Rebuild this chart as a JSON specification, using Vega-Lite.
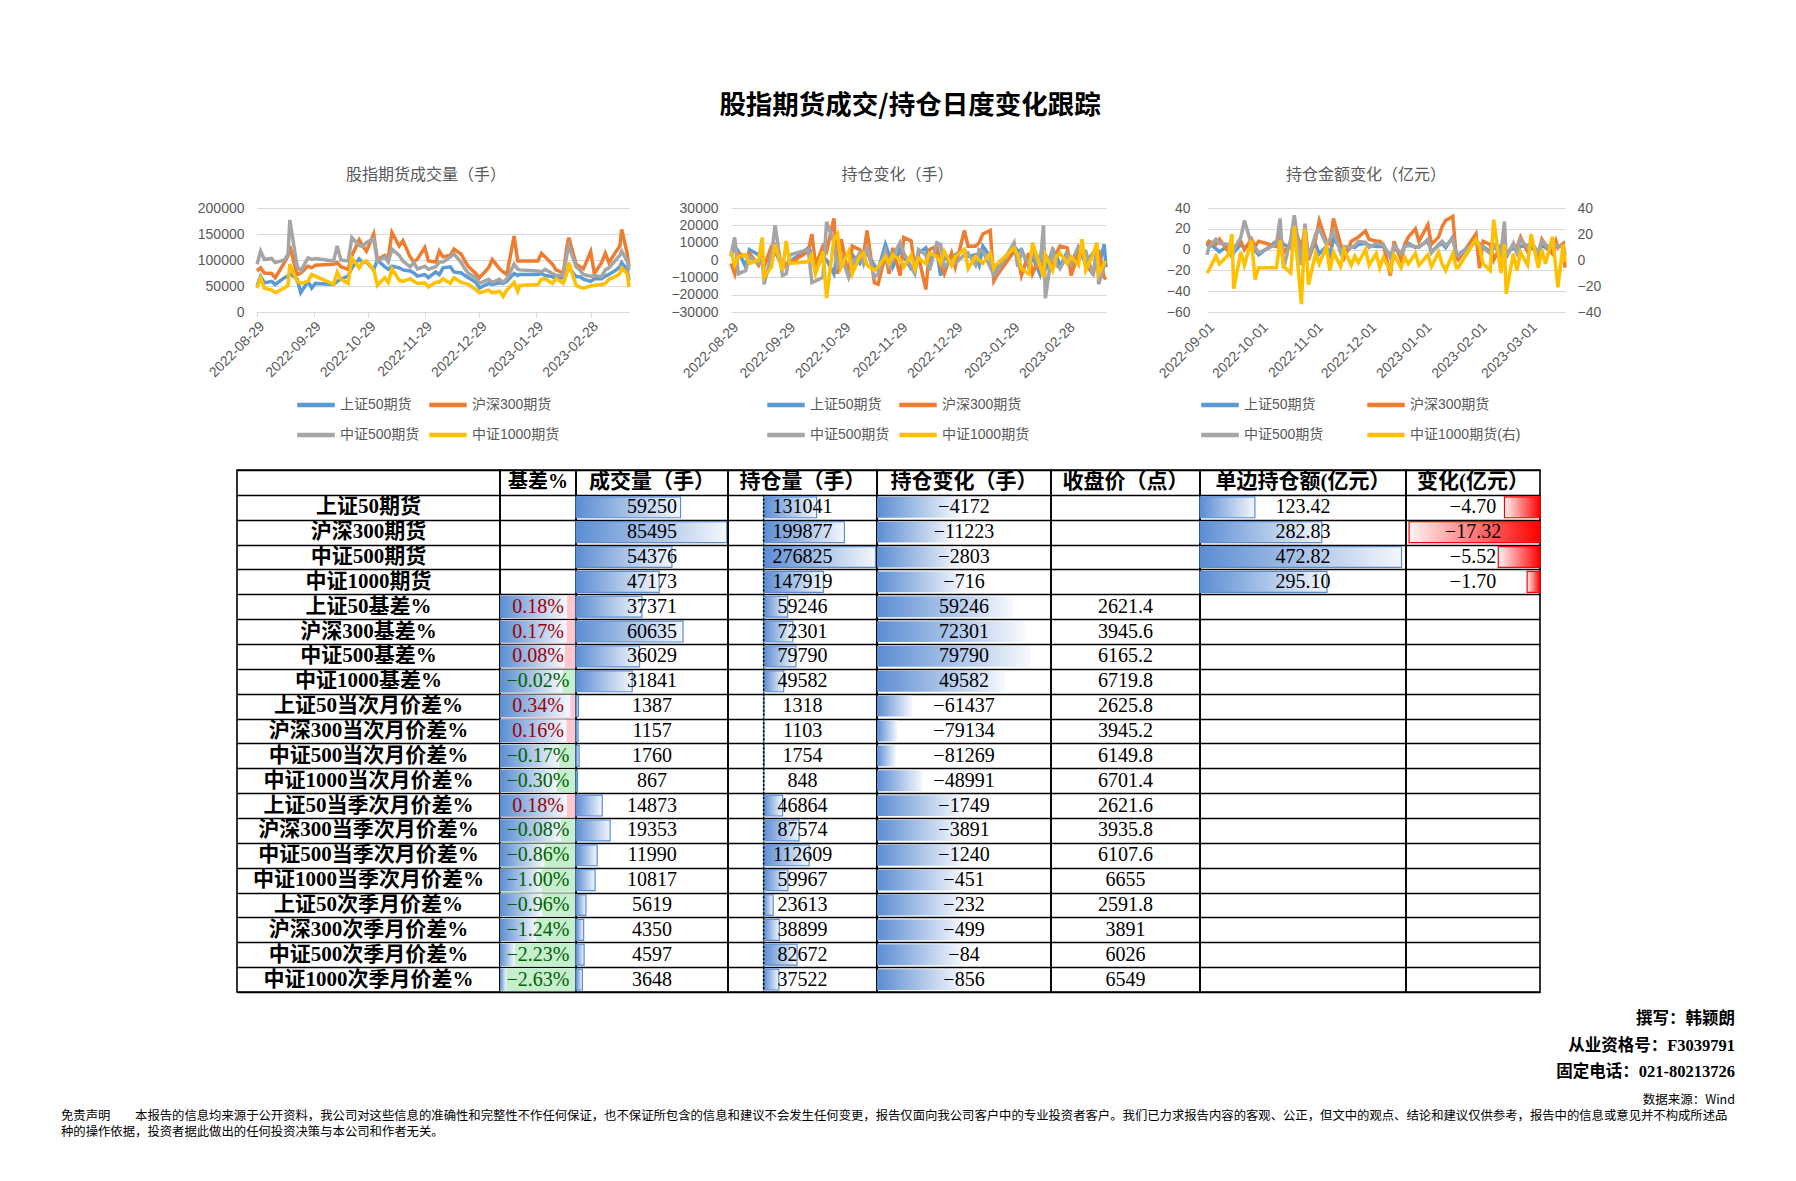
{
"$schema":"https://vega.github.io/schema/vega-lite/v6.json",
"background":"white",
"padding":{"left":61,"top":92,"right":61,"bottom":30},
"title":{"text":"股指期货成交/持仓日度变化跟踪","fontSize":26.5,"font":"Noto Sans CJK SC","fontWeight":"bold","color":"#000000","anchor":"middle","frame":"bounds","offset":48,"dx":12},
"config":{"view":{"stroke":null}},
"datasets":{
"vol":[
{"d":"2022-08-29","上证50期货":50000,"沪深300期货":79000,"中证500期货":92000,"中证1000期货":46000},
{"d":"2022-08-31","上证50期货":69000,"沪深300期货":85000,"中证500期货":117000,"中证1000期货":66000},
{"d":"2022-09-02","上证50期货":56000,"沪深300期货":75000,"中证500期货":101000,"中证1000期货":46000},
{"d":"2022-09-06","上证50期货":59000,"沪深300期货":74000,"中证500期货":103000,"中证1000期货":42000},
{"d":"2022-09-08","上证50期货":53000,"沪深300期货":66000,"中证500期货":95000,"中证1000期货":37000},
{"d":"2022-09-13","上证50期货":66000,"沪深300期货":95000,"中证500期货":100000,"中证1000期货":46000},
{"d":"2022-09-15","上证50期货":69000,"沪深300期货":108000,"中证500期货":111000,"中证1000期货":51000},
{"d":"2022-09-16","上证50期货":74000,"沪深300期货":127000,"中证500期货":177000,"中证1000期货":92000},
{"d":"2022-09-20","上证50期货":63000,"沪深300期货":72000,"中证500期货":88000,"中证1000期货":59000},
{"d":"2022-09-22","上证50期货":37000,"沪深300期货":75000,"中证500期货":79000,"中证1000期货":55000},
{"d":"2022-09-26","上证50期货":59000,"沪深300期货":88000,"中证500期货":104000,"中证1000期货":59000},
{"d":"2022-09-28","上证50期货":46000,"沪深300期货":85000,"中证500期货":101000,"中证1000期货":72000},
{"d":"2022-09-30","上证50期货":55000,"沪深300期货":90000,"中证500期货":103000,"中证1000期货":69000},
{"d":"2022-10-10","上证50期货":53000,"沪深300期货":92000,"中证500期货":98000,"中证1000期货":53000},
{"d":"2022-10-12","上证50期货":59000,"沪深300期货":95000,"中证500期货":127000,"中证1000期货":77000},
{"d":"2022-10-14","上证50期货":63000,"沪深300期货":87000,"中证500期货":100000,"中证1000期货":63000},
{"d":"2022-10-18","上证50期货":69000,"沪深300期货":82000,"中证500期货":98000,"中证1000期货":55000},
{"d":"2022-10-20","上证50期货":85000,"沪深300期货":108000,"中证500期货":143000,"中证1000期货":104000},
{"d":"2022-10-24","上证50期货":102000,"沪深300期货":139000,"中证500期货":128000,"中证1000期货":85000},
{"d":"2022-10-26","上证50期货":95000,"沪深300期货":127000,"中证500期货":126000,"中证1000期货":96000},
{"d":"2022-10-28","上证50期货":96000,"沪深300期货":117000,"中证500期货":134000,"中证1000期货":98000},
{"d":"2022-11-01","上证50期货":81000,"沪深300期货":150000,"中证500期货":141000,"中证1000期货":81000},
{"d":"2022-11-03","上证50期货":100000,"沪深300期货":101000,"中证500期货":98000,"中证1000期货":51000},
{"d":"2022-11-07","上证50期货":87000,"沪深300期货":109000,"中证500期货":106000,"中证1000期货":66000},
{"d":"2022-11-09","上证50期货":82000,"沪深300期货":104000,"中证500期货":96000,"中证1000期货":57000},
{"d":"2022-11-11","上证50期货":88000,"沪深300期货":153000,"中证500期货":121000,"中证1000期货":83000},
{"d":"2022-11-15","上证50期货":85000,"沪深300期货":127000,"中证500期货":109000,"中证1000期货":61000},
{"d":"2022-11-17","上证50期货":81000,"沪深300期货":137000,"中证500期货":98000,"中证1000期货":59000},
{"d":"2022-11-21","上证50期货":79000,"沪深300期货":106000,"中证500期货":87000,"中证1000期货":64000},
{"d":"2022-11-23","上证50期货":75000,"沪深300期货":96000,"中证500期货":95000,"中证1000期货":59000},
{"d":"2022-11-25","上证50期货":69000,"沪深300期货":102000,"中证500期货":83000,"中证1000期货":55000},
{"d":"2022-11-29","上证50期货":72000,"沪深300期货":124000,"中证500期货":88000,"中证1000期货":56000},
{"d":"2022-12-01","上证50期货":66000,"沪深300期货":98000,"中证500期货":82000,"中证1000期货":48000},
{"d":"2022-12-05","上证50期货":77000,"沪深300期货":96000,"中证500期货":87000,"中证1000期货":57000},
{"d":"2022-12-07","上证50期货":72000,"沪深300期货":117000,"中证500期货":96000,"中证1000期货":57000},
{"d":"2022-12-09","上证50期货":85000,"沪深300期货":106000,"中证500期货":96000,"中证1000期货":64000},
{"d":"2022-12-13","上证50期货":87000,"沪深300期货":109000,"中证500期货":106000,"中证1000期货":55000},
{"d":"2022-12-15","上证50期货":77000,"沪深300期货":121000,"中证500期货":112000,"中证1000期货":66000},
{"d":"2022-12-19","上证50期货":75000,"沪深300期货":111000,"中证500期货":95000,"中证1000期货":57000},
{"d":"2022-12-21","上证50期货":70000,"沪深300期货":98000,"中证500期货":83000,"中证1000期货":55000},
{"d":"2022-12-23","上证50期货":66000,"沪深300期货":87000,"中证500期货":74000,"中证1000期货":53000},
{"d":"2022-12-27","上证50期货":57000,"沪深300期货":74000,"中证500期货":66000,"中证1000期货":43000},
{"d":"2022-12-29","上证50期货":46000,"沪深300期货":66000,"中证500期货":55000,"中证1000期货":37000},
{"d":"2023-01-03","上证50期货":55000,"沪深300期货":85000,"中证500期货":63000,"中证1000期货":42000},
{"d":"2023-01-05","上证50期货":53000,"沪深300期货":101000,"中证500期货":57000,"中证1000期货":37000},
{"d":"2023-01-09","上证50期货":56000,"沪深300期货":83000,"中证500期货":63000,"中证1000期货":40000},
{"d":"2023-01-11","上证50期货":55000,"沪深300期货":77000,"中证500期货":57000,"中证1000期货":30000},
{"d":"2023-01-13","上证50期货":59000,"沪深300期货":72000,"中证500期货":64000,"中证1000期货":42000},
{"d":"2023-01-17","上证50期货":74000,"沪深300期货":146000,"中证500期货":92000,"中证1000期货":57000},
{"d":"2023-01-19","上证50期货":70000,"沪深300期货":98000,"中证500期货":82000,"中证1000期货":40000},
{"d":"2023-01-20","上证50期货":72000,"沪深300期货":98000,"中证500期货":81000,"中证1000期货":51000},
{"d":"2023-01-30","上证50期货":72000,"沪深300期货":98000,"中证500期货":79000,"中证1000期货":53000},
{"d":"2023-02-01","上证50期货":74000,"沪深300期货":113000,"中证500期货":77000,"中证1000期货":63000},
{"d":"2023-02-03","上证50期货":70000,"沪深300期货":106000,"中证500期货":82000,"中证1000期货":64000},
{"d":"2023-02-07","上证50期货":68000,"沪深300期货":92000,"中证500期货":74000,"中证1000期货":55000},
{"d":"2023-02-09","上证50期货":64000,"沪深300期货":81000,"中证500期货":70000,"中证1000期货":64000},
{"d":"2023-02-13","上证50期货":66000,"沪深300期货":75000,"中证500期货":70000,"中证1000期货":55000},
{"d":"2023-02-15","上证50期货":81000,"沪深300期货":127000,"中证500期货":111000,"中证1000期货":75000},
{"d":"2023-02-16","上证50期货":85000,"沪深300期货":143000,"中证500期货":127000,"中证1000期货":95000},
{"d":"2023-02-20","上证50期货":68000,"沪深300期货":92000,"中证500期货":87000,"中证1000期货":51000},
{"d":"2023-02-22","上证50期货":68000,"沪深300期货":87000,"中证500期货":81000,"中证1000期货":48000},
{"d":"2023-02-24","上证50期货":63000,"沪深300期货":83000,"中证500期货":72000,"中证1000期货":46000},
{"d":"2023-02-28","上证50期货":59000,"沪深300期货":116000,"中证500期货":69000,"中证1000期货":50000},
{"d":"2023-03-02","上证50期货":64000,"沪深300期货":74000,"中证500期货":70000,"中证1000期货":51000},
{"d":"2023-03-06","上证50期货":64000,"沪深300期货":95000,"中证500期货":68000,"中证1000期货":53000},
{"d":"2023-03-08","上证50期货":69000,"沪深300期货":113000,"中证500期货":81000,"中证1000期货":55000},
{"d":"2023-03-10","上证50期货":72000,"沪深300期货":95000,"中证500期货":85000,"中证1000期货":63000},
{"d":"2023-03-14","上证50期货":81000,"沪深300期货":117000,"中证500期货":101000,"中证1000期货":69000},
{"d":"2023-03-16","上证50期货":87000,"沪深300期货":127000,"中证500期货":109000,"中证1000期货":74000},
{"d":"2023-03-17","上证50期货":95000,"沪深300期货":159000,"中证500期货":117000,"中证1000期货":85000},
{"d":"2023-03-20","上证50期货":81000,"沪深300期货":113000,"中证500期货":98000,"中证1000期货":74000},
{"d":"2023-03-21","上证50期货":62000,"沪深300期货":87000,"中证500期货":80000,"中证1000期货":48000}
],
"oi":[
{"d":"2022-08-29","上证50期货":2000,"沪深300期货":-2000,"中证500期货":3000,"中证1000期货":5000},
{"d":"2022-08-31","上证50期货":8000,"沪深300期货":-8000,"中证500期货":13000,"中证1000期货":-3000},
{"d":"2022-09-02","上证50期货":5000,"沪深300期货":4000,"中证500期货":-8000,"中证1000期货":2000},
{"d":"2022-09-06","上证50期货":-4000,"沪深300期货":2000,"中证500期货":-6000,"中证1000期货":3000},
{"d":"2022-09-08","上证50期货":6000,"沪深300期货":4000,"中证500期货":2000,"中证1000期货":-2000},
{"d":"2022-09-13","上证50期货":3000,"沪深300期货":-3000,"中证500期货":-2000,"中证1000期货":0},
{"d":"2022-09-15","上证50期货":-1000,"沪深300期货":2000,"中证500期货":1000,"中证1000期货":13000},
{"d":"2022-09-16","上证50期货":-2000,"沪深300期货":-4000,"中证500期货":-14000,"中证1000期货":-10000},
{"d":"2022-09-20","上证50期货":2000,"沪深300期货":8000,"中证500期货":3000,"中证1000期货":-4000},
{"d":"2022-09-22","上证50期货":5000,"沪深300期货":9000,"中证500期货":20000,"中证1000期货":9000},
{"d":"2022-09-26","上证50期货":-4000,"沪深300期货":-5000,"中证500期货":-9000,"中证1000期货":-6000},
{"d":"2022-09-28","上证50期货":-3000,"沪深300期货":-2000,"中证500期货":-8000,"中证1000期货":11000},
{"d":"2022-09-30","上证50期货":-1000,"沪深300期货":-2000,"中证500期货":3000,"中证1000期货":-2000},
{"d":"2022-10-10","上证50期货":7000,"沪深300期货":5000,"中证500期货":6000,"中证1000期货":-1000},
{"d":"2022-10-12","上证50期货":4000,"沪深300期货":15000,"中证500期货":-13000,"中证1000期货":3000},
{"d":"2022-10-14","上证50期货":-6000,"沪深300期货":-3000,"中证500期货":-12000,"中证1000期货":-8000},
{"d":"2022-10-18","上证50期货":2000,"沪深300期货":8000,"中证500期货":-10000,"中证1000期货":5000},
{"d":"2022-10-20","上证50期货":0,"沪深300期货":5000,"中证500期货":22000,"中证1000期货":-22000},
{"d":"2022-10-24","上证50期货":-8000,"沪深300期货":24000,"中证500期货":10000,"中证1000期货":12000},
{"d":"2022-10-26","上证50期货":5000,"沪深300期货":-8000,"中证500期货":-5000,"中证1000期货":15000},
{"d":"2022-10-28","上证50期货":-2000,"沪深300期货":12000,"中证500期货":2000,"中证1000期货":-4000},
{"d":"2022-11-01","上证50期货":-5000,"沪深300期货":-10000,"中证500期货":-10000,"中证1000期货":5000},
{"d":"2022-11-03","上证50期货":3000,"沪深300期货":8000,"中证500期货":-3000,"中证1000期货":-8000},
{"d":"2022-11-07","上证50期货":-2000,"沪深300期货":6000,"中证500期货":4000,"中证1000期货":2000},
{"d":"2022-11-09","上证50期货":2000,"沪深300期货":2000,"中证500期货":-2000,"中证1000期货":4000},
{"d":"2022-11-11","上证50期货":4000,"沪深300期货":17000,"中证500期货":8000,"中证1000期货":-3000},
{"d":"2022-11-15","上证50期货":-3000,"沪深300期货":-13000,"中证500期货":-10000,"中证1000期货":-6000},
{"d":"2022-11-17","上证50期货":-6000,"沪深300期货":-14000,"中证500期货":-8000,"中证1000期货":-4000},
{"d":"2022-11-21","上证50期货":9000,"沪深300期货":3000,"中证500期货":5000,"中证1000期货":2000},
{"d":"2022-11-23","上证50期货":3000,"沪深300期货":-8000,"中证500期货":-5000,"中证1000期货":-2000},
{"d":"2022-11-25","上证50期货":-4000,"沪深300期货":7000,"中证500期货":2000,"中证1000期货":3000},
{"d":"2022-11-29","上证50期货":6000,"沪深300期货":-9000,"中证500期货":10000,"中证1000期货":0},
{"d":"2022-12-01","上证50期货":2000,"沪深300期货":13000,"中证500期货":4000,"中证1000期货":-4000},
{"d":"2022-12-05","上证50期货":-5000,"沪深300期货":11000,"中证500期货":-4000,"中证1000期货":3000},
{"d":"2022-12-07","上证50期货":-3000,"沪深300期货":-5000,"中证500期货":-8000,"中证1000期货":-5000},
{"d":"2022-12-09","上证50期货":4000,"沪深300期货":2000,"中证500期货":6000,"中证1000期货":1000},
{"d":"2022-12-13","上证50期货":7000,"沪深300期货":-17000,"中证500期货":3000,"中证1000期货":-2000},
{"d":"2022-12-15","上证50期货":0,"沪深300期货":6000,"中证500期货":-6000,"中证1000期货":4000},
{"d":"2022-12-19","上证50期货":5000,"沪深300期货":8000,"中证500期货":10000,"中证1000期货":2000},
{"d":"2022-12-21","上证50期货":-9000,"沪深300期货":-3000,"中证500期货":9000,"中证1000期货":-2000},
{"d":"2022-12-23","上证50期货":2000,"沪深300期货":-8000,"中证500期货":-4000,"中证1000期货":5000},
{"d":"2022-12-27","上证50期货":-2000,"沪深300期货":4000,"中证500期货":0,"中证1000期货":-3000},
{"d":"2022-12-29","上证50期货":3000,"沪深300期货":-4000,"中证500期货":-2000,"中证1000期货":2000},
{"d":"2023-01-03","上证50期货":6000,"沪深300期货":17000,"中证500期货":3000,"中证1000期货":6000},
{"d":"2023-01-05","上证50期货":2000,"沪深300期货":8000,"中证500期货":4000,"中证1000期货":-5000},
{"d":"2023-01-09","上证50期货":3000,"沪深300期货":8000,"中证500期货":-3000,"中证1000期货":2000},
{"d":"2023-01-11","上证50期货":-3000,"沪深300期货":10000,"中证500期货":6000,"中证1000期货":0},
{"d":"2023-01-13","上证50期货":8000,"沪深300期货":15000,"中证500期货":5000,"中证1000期货":-2000},
{"d":"2023-01-17","上证50期货":2000,"沪深300期货":17000,"中证500期货":-4000,"中证1000期货":4000},
{"d":"2023-01-19","上证50期货":-6000,"沪深300期货":-12000,"中证500期货":-9000,"中证1000期货":-5000},
{"d":"2023-01-20","上证50期货":-5000,"沪深300期货":-10000,"中证500期货":-8000,"中证1000期货":-3000},
{"d":"2023-01-30","上证50期货":8000,"沪深300期货":5000,"中证500期货":10000,"中证1000期货":7000},
{"d":"2023-02-01","上证50期货":5000,"沪深300期货":2000,"中证500期货":-4000,"中证1000期货":3000},
{"d":"2023-02-03","上证50期货":6000,"沪深300期货":-9000,"中证500期货":5000,"中证1000期货":-5000},
{"d":"2023-02-07","上证50期货":-4000,"沪深300期货":4000,"中证500期货":-2000,"中证1000期货":-8000},
{"d":"2023-02-09","上证50期货":2000,"沪深300期货":-8000,"中证500期货":5000,"中证1000期货":10000},
{"d":"2023-02-13","上证50期货":-8000,"沪深300期货":2000,"中证500期货":-5000,"中证1000期货":-3000},
{"d":"2023-02-15","上证50期货":7000,"沪深300期货":-6000,"中证500期货":20000,"中证1000期货":-10000},
{"d":"2023-02-16","上证50期货":-6000,"沪深300期货":3000,"中证500期货":-22000,"中证1000期货":3000},
{"d":"2023-02-20","上证50期货":6000,"沪深300期货":-4000,"中证500期货":7000,"中证1000期货":-6000},
{"d":"2023-02-22","上证50期货":3000,"沪深300期货":4000,"中证500期货":-3000,"中证1000期货":2000},
{"d":"2023-02-24","上证50期货":-4000,"沪深300期货":8000,"中证500期货":-5000,"中证1000期货":4000},
{"d":"2023-02-28","上证50期货":5000,"沪深300期货":7000,"中证500期货":3000,"中证1000期货":-2000},
{"d":"2023-03-02","上证50期货":-3000,"沪深300期货":-9000,"中证500期货":-2000,"中证1000期货":2000},
{"d":"2023-03-06","上证50期货":5000,"沪深300期货":4000,"中证500期货":8000,"中证1000期货":-3000},
{"d":"2023-03-08","上证50期货":2000,"沪深300期货":8000,"中证500期货":6000,"中证1000期货":12000},
{"d":"2023-03-10","上证50期货":-2000,"沪深300期货":-3000,"中证500期货":5000,"中证1000期货":-6000},
{"d":"2023-03-14","上证50期货":4000,"沪深300期货":-8000,"中证500期货":-9000,"中证1000期货":3000},
{"d":"2023-03-16","上证50期货":3000,"沪深300期货":2000,"中证500期货":8000,"中证1000期货":10000},
{"d":"2023-03-17","上证50期货":-4000,"沪深300期货":6000,"中证500期货":-14000,"中证1000期货":-8000},
{"d":"2023-03-20","上证50期货":9000,"沪深300期货":-10000,"中证500期货":-3000,"中证1000期货":-2000},
{"d":"2023-03-21","上证50期货":-4172,"沪深300期货":-11223,"中证500期货":-2803,"中证1000期货":-716}
],
"amt":[
{"d":"2022-09-01","上证50期货":3,"沪深300期货":5,"中证500期货":-5,"中证1000期货(右)":-10},
{"d":"2022-09-02","上证50期货":6,"沪深300期货":8,"中证500期货":2,"中证1000期货(右)":-8},
{"d":"2022-09-06","上证50期货":1,"沪深300期货":5,"中证500期货":10,"中证1000期货(右)":3},
{"d":"2022-09-08","上证50期货":-2,"沪深300期货":10,"中证500期货":6,"中证1000期货(右)":-3},
{"d":"2022-09-13","上证50期货":4,"沪深300期货":-2,"中证500期货":5,"中证1000期货(右)":4},
{"d":"2022-09-15","上证50期货":-6,"沪深300期货":-5,"中证500期货":-8,"中证1000期货(右)":20},
{"d":"2022-09-16","上证50期货":-3,"沪深300期货":2,"中证500期货":0,"中证1000期货(右)":-22},
{"d":"2022-09-20","上证50期货":5,"沪深300期货":8,"中证500期货":12,"中证1000期货(右)":6},
{"d":"2022-09-22","上证50期货":2,"沪深300期货":0,"中证500期货":28,"中证1000期货(右)":-4},
{"d":"2022-09-26","上证50期货":6,"沪深300期货":10,"中证500期货":5,"中证1000期货(右)":15},
{"d":"2022-09-28","上证50期货":-1,"沪深300期货":3,"中证500期货":2,"中证1000期货(右)":-15},
{"d":"2022-09-30","上证50期货":-5,"沪深300期货":8,"中证500期货":-3,"中证1000期货(右)":-6},
{"d":"2022-10-10","上证50期货":8,"沪深300期货":3,"中证500期货":5,"中证1000期货(右)":-6},
{"d":"2022-10-12","上证50期货":10,"沪深300期货":15,"中证500期货":30,"中证1000期货(右)":15},
{"d":"2022-10-14","上证50期货":5,"沪深300期货":-3,"中证500期货":-18,"中证1000期货(右)":-5},
{"d":"2022-10-18","上证50期货":2,"沪深300期货":6,"中证500期货":10,"中证1000期货(右)":-10},
{"d":"2022-10-20","上证50期货":12,"沪深300期货":22,"中证500期货":33,"中证1000期货(右)":26},
{"d":"2022-10-24","上证50期货":4,"沪深300期货":2,"中证500期货":-15,"中证1000期货(右)":-34},
{"d":"2022-10-26","上证50期货":8,"沪深300期货":18,"中证500期货":25,"中证1000期货(右)":24},
{"d":"2022-10-28","上证50期货":-3,"沪深300期货":-10,"中证500期货":-8,"中证1000期货(右)":-19},
{"d":"2022-11-01","上证50期货":5,"沪深300期货":10,"中证500期货":15,"中证1000期货(右)":5},
{"d":"2022-11-03","上证50期货":-4,"沪深300期货":28,"中证500期货":20,"中证1000期货(右)":-3},
{"d":"2022-11-07","上证50期货":3,"沪深300期货":8,"中证500期货":5,"中证1000期货(右)":10},
{"d":"2022-11-09","上证50期货":-5,"沪深300期货":5,"中证500期货":10,"中证1000期货(右)":-8},
{"d":"2022-11-11","上证50期货":10,"沪深300期货":30,"中证500期货":18,"中证1000期货(右)":6},
{"d":"2022-11-15","上证50期货":2,"沪深300期货":5,"中证500期货":-3,"中证1000期货(右)":-5},
{"d":"2022-11-17","上证50期货":-4,"沪深300期货":-8,"中证500期货":3,"中证1000期货(右)":8},
{"d":"2022-11-21","上证50期货":3,"沪深300期货":8,"中证500期货":2,"中证1000期货(右)":-4},
{"d":"2022-11-23","上证50期货":2,"沪深300期货":10,"中证500期货":4,"中证1000期货(右)":3},
{"d":"2022-11-25","上证50期货":5,"沪深300期货":12,"中证500期货":8,"中证1000期货(右)":-2},
{"d":"2022-11-29","上证50期货":6,"沪深300期货":18,"中证500期货":7,"中证1000期货(右)":8},
{"d":"2022-12-01","上证50期货":4,"沪深300期货":10,"中证500期货":2,"中证1000期货(右)":-4},
{"d":"2022-12-05","上证50期货":3,"沪深300期货":8,"中证500期货":6,"中证1000期货(右)":5},
{"d":"2022-12-07","上证50期货":3,"沪深300期货":8,"中证500期货":5,"中证1000期货(右)":-6},
{"d":"2022-12-09","上证50期货":3,"沪深300期货":5,"中证500期货":5,"中证1000期货(右)":2},
{"d":"2022-12-13","上证50期货":-6,"沪深300期货":-25,"中证500期货":-8,"中证1000期货(右)":-8},
{"d":"2022-12-15","上证50期货":2,"沪深300期货":8,"中证500期货":4,"中证1000期货(右)":4},
{"d":"2022-12-19","上证50期货":-5,"沪深300期货":-10,"中证500期货":-4,"中证1000期货(右)":-6},
{"d":"2022-12-21","上证50期货":4,"沪深300期货":5,"中证500期货":3,"中证1000期货(右)":2},
{"d":"2022-12-23","上证50期货":6,"沪深300期货":12,"中证500期货":4,"中证1000期货(右)":-3},
{"d":"2022-12-27","上证50期货":2,"沪深300期货":20,"中证500期货":3,"中证1000期货(右)":5},
{"d":"2022-12-29","上证50期货":3,"沪深300期货":8,"中证500期货":2,"中证1000期货(右)":-4},
{"d":"2023-01-03","上证50期货":8,"沪深300期货":24,"中证500期货":10,"中证1000期货(右)":4},
{"d":"2023-01-05","上证50期货":-2,"沪深300期货":5,"中证500期货":-3,"中证1000期货(右)":-5},
{"d":"2023-01-09","上证50期货":4,"沪深300期货":12,"中证500期货":5,"中证1000期货(右)":6},
{"d":"2023-01-11","上证50期货":6,"沪深300期货":22,"中证500期货":8,"中证1000期货(右)":-3},
{"d":"2023-01-13","上证50期货":2,"沪深300期货":28,"中证500期货":4,"中证1000期货(右)":-8},
{"d":"2023-01-17","上证50期货":12,"沪深300期货":32,"中证500期货":10,"中证1000期货(右)":5},
{"d":"2023-01-19","上证50期货":-4,"沪深300期货":-8,"中证500期货":-5,"中证1000期货(右)":-6},
{"d":"2023-01-20","上证50期货":-5,"沪深300期货":-10,"中证500期货":-6,"中证1000期货(右)":-6},
{"d":"2023-01-30","上证50期货":8,"沪深300期货":15,"中证500期货":8,"中证1000期货(右)":16},
{"d":"2023-02-01","上证50期货":4,"沪深300期货":-18,"中证500期货":6,"中证1000期货(右)":10},
{"d":"2023-02-03","上证50期货":3,"沪深300期货":8,"中证500期货":2,"中证1000期货(右)":-3},
{"d":"2023-02-07","上证50期货":-2,"沪深300期货":5,"中证500期货":-4,"中证1000期货(右)":-8},
{"d":"2023-02-09","上证50期货":3,"沪深300期货":-10,"中证500期货":5,"中证1000期货(右)":31},
{"d":"2023-02-13","上证50期货":-3,"沪深300期货":4,"中证500期货":-5,"中证1000期货(右)":-10},
{"d":"2023-02-15","上证50期货":5,"沪深300期货":6,"中证500期货":27,"中证1000期货(右)":12},
{"d":"2023-02-16","上证50期货":-4,"沪深300期货":-6,"中证500期货":-8,"中证1000期货(右)":-26},
{"d":"2023-02-20","上证50期货":2,"沪深300期货":5,"中证500期货":6,"中证1000期货(右)":5},
{"d":"2023-02-22","上证50期货":-2,"沪深300期货":2,"中证500期货":-3,"中证1000期货(右)":-8},
{"d":"2023-02-24","上证50期货":3,"沪深300期货":12,"中证500期货":10,"中证1000期货(右)":6},
{"d":"2023-02-28","上证50期货":4,"沪深300期货":-2,"中证500期货":2,"中证1000期货(右)":-4},
{"d":"2023-03-02","上证50期货":2,"沪深300期货":8,"中证500期货":6,"中证1000期货(右)":20},
{"d":"2023-03-06","上证50期货":-3,"沪深300期货":-5,"中证500期货":-2,"中证1000期货(右)":-6},
{"d":"2023-03-08","上证50期货":4,"沪深300期货":10,"中证500期货":8,"中证1000期货(右)":8},
{"d":"2023-03-10","上证50期货":2,"沪深300期货":5,"中证500期货":4,"中证1000期货(右)":-3},
{"d":"2023-03-14","上证50期货":-2,"沪深300期货":-4,"中证500期货":2,"中证1000期货(右)":18},
{"d":"2023-03-16","上证50期货":6,"沪深300期货":8,"中证500期货":5,"中证1000期货(右)":-8},
{"d":"2023-03-17","上证50期货":3,"沪深300期货":2,"中证500期货":4,"中证1000期货(右)":-21},
{"d":"2023-03-20","上证50期货":4,"沪深300期货":6,"中证500期货":2,"中证1000期货(右)":12},
{"d":"2023-03-21","上证50期货":-4.7,"沪深300期货":-17.32,"中证500期货":-5.52,"中证1000期货(右)":-1.7}
],
"tbl":[
{"r":"上证50期货","vol":59250,"oi":131041,"oic":-4172,"amt":123.42,"chg":-4.70},
{"r":"沪深300期货","vol":85495,"oi":199877,"oic":-11223,"amt":282.83,"chg":-17.32},
{"r":"中证500期货","vol":54376,"oi":276825,"oic":-2803,"amt":472.82,"chg":-5.52},
{"r":"中证1000期货","vol":47173,"oi":147919,"oic":-716,"amt":295.10,"chg":-1.70},
{"r":"上证50基差%","j":0.0018,"vol":37371,"oi":59246,"oic":59246,"cl":2621.4},
{"r":"沪深300基差%","j":0.0017,"vol":60635,"oi":72301,"oic":72301,"cl":3945.6},
{"r":"中证500基差%","j":0.0008,"vol":36029,"oi":79790,"oic":79790,"cl":6165.2},
{"r":"中证1000基差%","j":-0.0002,"vol":31841,"oi":49582,"oic":49582,"cl":6719.8},
{"r":"上证50当次月价差%","j":0.0034,"vol":1387,"oi":1318,"oic":-61437,"cl":2625.8},
{"r":"沪深300当次月价差%","j":0.0016,"vol":1157,"oi":1103,"oic":-79134,"cl":3945.2},
{"r":"中证500当次月价差%","j":-0.0017,"vol":1760,"oi":1754,"oic":-81269,"cl":6149.8},
{"r":"中证1000当次月价差%","j":-0.0030,"vol":867,"oi":848,"oic":-48991,"cl":6701.4},
{"r":"上证50当季次月价差%","j":0.0018,"vol":14873,"oi":46864,"oic":-1749,"cl":2621.6},
{"r":"沪深300当季次月价差%","j":-0.0008,"vol":19353,"oi":87574,"oic":-3891,"cl":3935.8},
{"r":"中证500当季次月价差%","j":-0.0086,"vol":11990,"oi":112609,"oic":-1240,"cl":6107.6},
{"r":"中证1000当季次月价差%","j":-0.0100,"vol":10817,"oi":59967,"oic":-451,"cl":6655},
{"r":"上证50次季月价差%","j":-0.0096,"vol":5619,"oi":23613,"oic":-232,"cl":2591.8},
{"r":"沪深300次季月价差%","j":-0.0124,"vol":4350,"oi":38899,"oic":-499,"cl":3891},
{"r":"中证500次季月价差%","j":-0.0223,"vol":4597,"oi":82672,"oic":-84,"cl":6026},
{"r":"中证1000次季月价差%","j":-0.0263,"vol":3648,"oi":37522,"oic":-856,"cl":6549}
]
},
"vconcat":[
{"vconcat":[
{"hconcat":[
{"width":109,"height":104,"data":{"values":[]},"mark":{"type":"text"},"encoding":{}},
{"width":372,"height":104,
"title":{"text":"股指期货成交量（手）","fontSize":16,"font":"Noto Sans CJK SC","fontWeight":"normal","color":"#595959","offset":18,"dx":-17},
"data":{"name":"vol"},
"transform":[{"fold":["上证50期货","沪深300期货","中证500期货","中证1000期货"],"as":["s","v"]}],
"mark":{"type":"line","strokeWidth":3.5},
"encoding":{
"x":{"field":"d","type":"temporal","scale":{"type":"utc","domain":[{"year":2022,"month":8,"date":29,"utc":true},{"year":2023,"month":3,"date":21,"utc":true}]},
"axis":{"values":[{"year":2022,"month":8,"date":29,"utc":true},{"year":2022,"month":9,"date":29,"utc":true},{"year":2022,"month":10,"date":29,"utc":true},{"year":2022,"month":11,"date":29,"utc":true},{"year":2022,"month":12,"date":29,"utc":true},{"year":2023,"month":1,"date":29,"utc":true},{"year":2023,"month":2,"date":28,"utc":true}],
"format":"%Y-%m-%d","labelAngle":-45,"labelFontSize":14,"labelFont":"Liberation Sans","labelColor":"#595959","labelFlush":false,"labelOverlap":false,"grid":false,"domainColor":"#D9D9D9","tickColor":"#D9D9D9","tickSize":5,"title":null}},
"y":{"field":"v","type":"quantitative","scale":{"domain":[0,200000],"nice":false},
"axis":{"values":[0,50000,100000,150000,200000],"format":"d","labelFontSize":14,"labelFont":"Liberation Sans","labelColor":"#595959","gridColor":"#D9D9D9","domain":false,"ticks":false,"labelPadding":13,"minExtent":60,"maxExtent":60,"title":null}},
"color":{"field":"s","type":"nominal","scale":{"domain":["上证50期货","沪深300期货","中证500期货","中证1000期货"],"range":["#5B9BD5","#ED7D31","#A5A5A5","#FFC000"]},
"legend":{"orient":"none","legendX":38,"legendY":176,"direction":"horizontal","columns":2,"title":null,"symbolType":"stroke","symbolSize":1400,"symbolStrokeWidth":4.5,"labelFontSize":14,"labelFont":"Liberation Sans, Noto Sans CJK SC","labelColor":"#595959","labelOffset":3,"columnPadding":0,"rowPadding":-1}}
}},
{"width":375,"height":104,
"title":{"text":"持仓变化（手）","fontSize":16,"font":"Noto Sans CJK SC","fontWeight":"normal","color":"#595959","offset":18,"dx":-21},
"data":{"name":"oi"},
"transform":[{"fold":["上证50期货","沪深300期货","中证500期货","中证1000期货"],"as":["s","v"]}],
"mark":{"type":"line","strokeWidth":3.5},
"encoding":{
"x":{"field":"d","type":"temporal","scale":{"type":"utc","domain":[{"year":2022,"month":8,"date":29,"utc":true},{"year":2023,"month":3,"date":21,"utc":true}]},
"axis":{"values":[{"year":2022,"month":8,"date":29,"utc":true},{"year":2022,"month":9,"date":29,"utc":true},{"year":2022,"month":10,"date":29,"utc":true},{"year":2022,"month":11,"date":29,"utc":true},{"year":2022,"month":12,"date":29,"utc":true},{"year":2023,"month":1,"date":29,"utc":true},{"year":2023,"month":2,"date":28,"utc":true}],
"format":"%Y-%m-%d","labelAngle":-45,"labelFontSize":14,"labelFont":"Liberation Sans","labelColor":"#595959","labelFlush":false,"labelOverlap":false,"grid":false,"domain":false,"ticks":false,"labelPadding":8,"title":null}},
"y":{"field":"v","type":"quantitative","scale":{"domain":[-30000,30000],"nice":false},
"axis":{"values":[-30000,-20000,-10000,0,10000,20000,30000],"format":"d","labelFontSize":14,"labelFont":"Liberation Sans","labelColor":"#595959","gridColor":"#D9D9D9","domain":false,"ticks":false,"labelPadding":13,"minExtent":68,"maxExtent":68,"title":null}},
"color":{"field":"s","type":"nominal","scale":{"domain":["上证50期货","沪深300期货","中证500期货","中证1000期货"],"range":["#5B9BD5","#ED7D31","#A5A5A5","#FFC000"]},
"legend":{"orient":"none","legendX":34,"legendY":176,"direction":"horizontal","columns":2,"title":null,"symbolType":"stroke","symbolSize":1400,"symbolStrokeWidth":4.5,"labelFontSize":14,"labelFont":"Liberation Sans, Noto Sans CJK SC","labelColor":"#595959","labelOffset":3,"columnPadding":0,"rowPadding":-1}}
}},
{"width":358,"height":104,
"title":{"text":"持仓金额变化（亿元）","fontSize":16,"font":"Noto Sans CJK SC","fontWeight":"normal","color":"#595959","offset":18,"dx":-20},
"data":{"name":"amt"},
"transform":[{"fold":["上证50期货","沪深300期货","中证500期货","中证1000期货(右)"],"as":["s","v"]}],
"encoding":{
"x":{"field":"d","type":"temporal","scale":{"type":"utc","domain":[{"year":2022,"month":9,"date":1,"utc":true},{"year":2023,"month":3,"date":21,"utc":true}]},
"axis":{"values":[{"year":2022,"month":9,"date":1,"utc":true},{"year":2022,"month":10,"date":1,"utc":true},{"year":2022,"month":11,"date":1,"utc":true},{"year":2022,"month":12,"date":1,"utc":true},{"year":2023,"month":1,"date":1,"utc":true},{"year":2023,"month":2,"date":1,"utc":true},{"year":2023,"month":3,"date":1,"utc":true}],
"format":"%Y-%m-%d","labelAngle":-45,"labelFontSize":14,"labelFont":"Liberation Sans","labelColor":"#595959","labelFlush":false,"labelOverlap":false,"grid":false,"domain":false,"ticks":false,"labelPadding":8,"title":null}},
"color":{"field":"s","type":"nominal","scale":{"domain":["上证50期货","沪深300期货","中证500期货","中证1000期货(右)"],"range":["#5B9BD5","#ED7D31","#A5A5A5","#FFC000"]},
"legend":{"orient":"none","legendX":-8,"legendY":176,"direction":"horizontal","columns":2,"title":null,"symbolType":"stroke","symbolSize":1400,"symbolStrokeWidth":4.5,"labelFontSize":14,"labelFont":"Liberation Sans, Noto Sans CJK SC","labelColor":"#595959","labelOffset":3,"columnPadding":34,"rowPadding":-1}}
},
"layer":[
{"transform":[{"filter":"datum.s !== '中证1000期货(右)'"}],"mark":{"type":"line","strokeWidth":3.5},
"encoding":{"y":{"field":"v","type":"quantitative","scale":{"domain":[-60,40],"nice":false},
"axis":{"values":[-60,-40,-20,0,20,40],"format":"d","labelFontSize":14,"labelFont":"Liberation Sans","labelColor":"#595959","gridColor":"#D9D9D9","domain":false,"ticks":false,"labelPadding":17,"minExtent":67,"maxExtent":67,"title":null}}}},
{"transform":[{"filter":"datum.s === '中证1000期货(右)'"}],"mark":{"type":"line","strokeWidth":3.5},
"encoding":{"y":{"field":"v","type":"quantitative","scale":{"domain":[-40,40],"nice":false},
"axis":{"orient":"right","values":[-40,-20,0,20,40],"format":"d","labelFontSize":14,"labelFont":"Liberation Sans","labelColor":"#595959","grid":false,"domain":false,"ticks":false,"labelPadding":12,"title":null}}}}
],
"resolve":{"scale":{"y":"independent"},"axis":{"y":"independent"}}
}
],
"spacing":27,
"resolve":{"scale":{"x":"independent","y":"independent","color":"independent"},"legend":{"color":"independent"}}
},
{"hconcat":[
{"width":176,"height":522,"data":{"values":[]},"mark":{"type":"text"},"encoding":{}},
{"width":263,"height":522,"view":{"stroke":"#000000","strokeWidth":1.6},
"data":{"name":"tbl"},
"mark":{"type":"text","font":"Liberation Serif, Noto Sans CJK SC","fontSize":21,"fontWeight":"bold","color":"#000000"},
"encoding":{
"y":{"field":"r","type":"nominal","scale":{"type":"band","paddingInner":0,"paddingOuter":0,"domain":["h","上证50期货","沪深300期货","中证500期货","中证1000期货","上证50基差%","沪深300基差%","中证500基差%","中证1000基差%","上证50当次月价差%","沪深300当次月价差%","中证500当次月价差%","中证1000当次月价差%","上证50当季次月价差%","沪深300当季次月价差%","中证500当季次月价差%","中证1000当季次月价差%","上证50次季月价差%","沪深300次季月价差%","中证500次季月价差%","中证1000次季月价差%"]},
"axis":{"grid":true,"gridColor":"#000000","gridWidth":1.6,"labels":false,"ticks":false,"domain":false,"title":null,"tickBand":"extent","minExtent":0,"maxExtent":0}},
"text":{"field":"r"}}
},
{"width":76,"height":522,"view":{"stroke":"#000000","strokeWidth":1.6},
"layer":[
{"data":{"name":"tbl"},"transform":[{"filter":"isValid(datum.j)"}],
"mark":{"type":"bar","height":{"band":0.94}},
"encoding":{
"y":{"field":"r","type":"nominal","scale":{"type":"band","paddingInner":0,"paddingOuter":0,"domain":["h","上证50期货","沪深300期货","中证500期货","中证1000期货","上证50基差%","沪深300基差%","中证500基差%","中证1000基差%","上证50当次月价差%","沪深300当次月价差%","中证500当次月价差%","中证1000当次月价差%","上证50当季次月价差%","沪深300当季次月价差%","中证500当季次月价差%","中证1000当季次月价差%","上证50次季月价差%","沪深300次季月价差%","中证500次季月价差%","中证1000次季月价差%"]},
"axis":{"grid":true,"gridColor":"#000000","gridWidth":1.6,"labels":false,"ticks":false,"domain":false,"title":null,"tickBand":"extent","minExtent":0,"maxExtent":0}},
"x":{"datum":-0.02925,"type":"quantitative","scale":{"domain":[-0.02925,0.00603],"nice":false,"zero":false},"axis":null},
"x2":{"datum":0.00603},
"color":{"condition":{"test":"datum.j > 0","value":"#FFC7CE"},"value":"#C6EFCE"}}},
{"data":{"name":"tbl"},"transform":[{"filter":"isValid(datum.j)"}],
"mark":{"type":"bar","height":{"band":0.9},"fill":{"gradient":"linear","x1":0,"y1":0,"x2":1,"y2":0,"stops":[{"offset":0,"color":"#5B8DD3"},{"offset":1,"color":"#F7F9FD"}]}},
"encoding":{"y":{"field":"r","type":"nominal"},"x":{"field":"j","type":"quantitative"},"x2":{"datum":-0.02925}}},
{"data":{"name":"tbl"},"transform":[{"filter":"isValid(datum.j)"}],
"mark":{"type":"text","font":"Liberation Serif","fontSize":20},
"encoding":{"y":{"field":"r","type":"nominal"},"text":{"field":"j","type":"quantitative","format":".2%"},
"color":{"condition":{"test":"datum.j > 0","value":"#9C0006"},"value":"#006100"}}},
{"data":{"values":[{"r":"h","t":"基差%"}]},
"mark":{"type":"text","font":"Liberation Serif, Noto Sans CJK SC","fontSize":20,"fontWeight":"bold","color":"#000000"},
"encoding":{"y":{"field":"r","type":"nominal"},"text":{"field":"t"}}}
]},
{"width":152,"height":522,"view":{"stroke":"#000000","strokeWidth":1.6},
"layer":[
{"data":{"name":"tbl"},
"mark":{"type":"bar","height":{"band":0.84},"fill":{"gradient":"linear","x1":0,"y1":0,"x2":1,"y2":0,"stops":[{"offset":0,"color":"#5B8DD3"},{"offset":1,"color":"#F4F7FC"}]},"stroke":"#5B8DD3","strokeWidth":1.2},
"encoding":{
"y":{"field":"r","type":"nominal","scale":{"type":"band","paddingInner":0,"paddingOuter":0,"domain":["h","上证50期货","沪深300期货","中证500期货","中证1000期货","上证50基差%","沪深300基差%","中证500基差%","中证1000基差%","上证50当次月价差%","沪深300当次月价差%","中证500当次月价差%","中证1000当次月价差%","上证50当季次月价差%","沪深300当季次月价差%","中证500当季次月价差%","中证1000当季次月价差%","上证50次季月价差%","沪深300次季月价差%","中证500次季月价差%","中证1000次季月价差%"]},
"axis":{"grid":true,"gridColor":"#000000","gridWidth":1.6,"labels":false,"ticks":false,"domain":false,"title":null,"tickBand":"extent","minExtent":0,"maxExtent":0}},
"x":{"field":"vol","type":"quantitative","scale":{"domain":[0,86158],"nice":false,"zero":false},"axis":null},
"x2":{"datum":0}}},
{"data":{"name":"tbl"},
"mark":{"type":"text","font":"Liberation Serif","fontSize":20,"color":"#000000"},
"encoding":{"y":{"field":"r","type":"nominal"},"text":{"field":"vol","type":"quantitative","format":"d"}}},
{"data":{"values":[{"r":"h","t":"成交量（手）"}]},
"mark":{"type":"text","font":"Liberation Serif, Noto Sans CJK SC","fontSize":21,"fontWeight":"bold","color":"#000000"},
"encoding":{"y":{"field":"r","type":"nominal"},"text":{"field":"t"}}}
]},
{"width":149,"height":522,"view":{"stroke":"#000000","strokeWidth":1.6},
"layer":[
{"data":{"name":"tbl"},
"mark":{"type":"bar","height":{"band":0.84},"fill":{"gradient":"linear","x1":0,"y1":0,"x2":1,"y2":0,"stops":[{"offset":0,"color":"#5B8DD3"},{"offset":1,"color":"#F4F7FC"}]},"stroke":"#5B8DD3","strokeWidth":1.2},
"encoding":{
"y":{"field":"r","type":"nominal","scale":{"type":"band","paddingInner":0,"paddingOuter":0,"domain":["h","上证50期货","沪深300期货","中证500期货","中证1000期货","上证50基差%","沪深300基差%","中证500基差%","中证1000基差%","上证50当次月价差%","沪深300当次月价差%","中证500当次月价差%","中证1000当次月价差%","上证50当季次月价差%","沪深300当季次月价差%","中证500当季次月价差%","中证1000当季次月价差%","上证50次季月价差%","沪深300次季月价差%","中证500次季月价差%","中证1000次季月价差%"]},
"axis":{"grid":true,"gridColor":"#000000","gridWidth":1.6,"labels":false,"ticks":false,"domain":false,"title":null,"tickBand":"extent","minExtent":0,"maxExtent":0}},
"x":{"field":"oi","type":"quantitative","scale":{"domain":[-88089,280397],"nice":false,"zero":false},"axis":null},
"x2":{"datum":0}}},
{"data":{"name":"tbl"},
"mark":{"type":"bar","fill":null,"stroke":"#000000","strokeWidth":1.5,"strokeDash":[2,2]},
"encoding":{"y":{"field":"r","type":"nominal"},"x":{"datum":0,"type":"quantitative"},"x2":{"datum":0}}},
{"data":{"name":"tbl"},
"mark":{"type":"text","font":"Liberation Serif","fontSize":20,"color":"#000000"},
"encoding":{"y":{"field":"r","type":"nominal"},"text":{"field":"oi","type":"quantitative","format":"d"}}},
{"data":{"values":[{"r":"h","t":"持仓量（手）"}]},
"mark":{"type":"text","font":"Liberation Serif, Noto Sans CJK SC","fontSize":21,"fontWeight":"bold","color":"#000000"},
"encoding":{"y":{"field":"r","type":"nominal"},"text":{"field":"t"}}}
]},
{"width":174,"height":522,"view":{"stroke":"#000000","strokeWidth":1.6},
"layer":[
{"data":{"name":"tbl"},
"mark":{"type":"bar","height":{"band":0.84},"fill":{"gradient":"linear","x1":0,"y1":0,"x2":1,"y2":0,"stops":[{"offset":0,"color":"#5B8DD3"},{"offset":1,"color":"#F7F9FD"}]}},
"encoding":{
"y":{"field":"r","type":"nominal","scale":{"type":"band","paddingInner":0,"paddingOuter":0,"domain":["h","上证50期货","沪深300期货","中证500期货","中证1000期货","上证50基差%","沪深300基差%","中证500基差%","中证1000基差%","上证50当次月价差%","沪深300当次月价差%","中证500当次月价差%","中证1000当次月价差%","上证50当季次月价差%","沪深300当季次月价差%","中证500当季次月价差%","中证1000当季次月价差%","上证50次季月价差%","沪深300次季月价差%","中证500次季月价差%","中证1000次季月价差%"]},
"axis":{"grid":true,"gridColor":"#000000","gridWidth":1.6,"labels":false,"ticks":false,"domain":false,"title":null,"tickBand":"extent","minExtent":0,"maxExtent":0}},
"x":{"field":"oic","type":"quantitative","scale":{"domain":[-103800,103700],"nice":false,"zero":false},"axis":null},
"x2":{"datum":-103800}}},
{"data":{"name":"tbl"},
"mark":{"type":"text","font":"Liberation Serif","fontSize":20,"color":"#000000"},
"encoding":{"y":{"field":"r","type":"nominal"},"text":{"field":"oic","type":"quantitative","format":"d"}}},
{"data":{"values":[{"r":"h","t":"持仓变化（手）"}]},
"mark":{"type":"text","font":"Liberation Serif, Noto Sans CJK SC","fontSize":21,"fontWeight":"bold","color":"#000000"},
"encoding":{"y":{"field":"r","type":"nominal"},"text":{"field":"t"}}}
]},
{"width":149,"height":522,"view":{"stroke":"#000000","strokeWidth":1.6},
"layer":[
{"data":{"name":"tbl"},"transform":[{"filter":"isValid(datum.cl)"}],
"mark":{"type":"text","font":"Liberation Serif","fontSize":20,"color":"#000000"},
"encoding":{
"y":{"field":"r","type":"nominal","scale":{"type":"band","paddingInner":0,"paddingOuter":0,"domain":["h","上证50期货","沪深300期货","中证500期货","中证1000期货","上证50基差%","沪深300基差%","中证500基差%","中证1000基差%","上证50当次月价差%","沪深300当次月价差%","中证500当次月价差%","中证1000当次月价差%","上证50当季次月价差%","沪深300当季次月价差%","中证500当季次月价差%","中证1000当季次月价差%","上证50次季月价差%","沪深300次季月价差%","中证500次季月价差%","中证1000次季月价差%"]},
"axis":{"grid":true,"gridColor":"#000000","gridWidth":1.6,"labels":false,"ticks":false,"domain":false,"title":null,"tickBand":"extent","minExtent":0,"maxExtent":0}},
"text":{"field":"cl","type":"quantitative","format":"~f"}}},
{"data":{"values":[{"r":"h","t":"收盘价（点）"}]},
"mark":{"type":"text","font":"Liberation Serif, Noto Sans CJK SC","fontSize":21,"fontWeight":"bold","color":"#000000"},
"encoding":{"y":{"field":"r","type":"nominal"},"text":{"field":"t"}}}
]},
{"width":206,"height":522,"view":{"stroke":"#000000","strokeWidth":1.6},
"layer":[
{"data":{"name":"tbl"},"transform":[{"filter":"isValid(datum.amt)"}],
"mark":{"type":"bar","height":{"band":0.84},"fill":{"gradient":"linear","x1":0,"y1":0,"x2":1,"y2":0,"stops":[{"offset":0,"color":"#5B8DD3"},{"offset":1,"color":"#F4F7FC"}]},"stroke":"#5B8DD3","strokeWidth":1.2},
"encoding":{
"y":{"field":"r","type":"nominal","scale":{"type":"band","paddingInner":0,"paddingOuter":0,"domain":["h","上证50期货","沪深300期货","中证500期货","中证1000期货","上证50基差%","沪深300基差%","中证500基差%","中证1000基差%","上证50当次月价差%","沪深300当次月价差%","中证500当次月价差%","中证1000当次月价差%","上证50当季次月价差%","沪深300当季次月价差%","中证500当季次月价差%","中证1000当季次月价差%","上证50次季月价差%","沪深300次季月价差%","中证500次季月价差%","中证1000次季月价差%"]},
"axis":{"grid":true,"gridColor":"#000000","gridWidth":1.6,"labels":false,"ticks":false,"domain":false,"title":null,"tickBand":"extent","minExtent":0,"maxExtent":0}},
"x":{"field":"amt","type":"quantitative","scale":{"domain":[-7.37,483.5],"nice":false,"zero":false},"axis":null},
"x2":{"datum":-7.37}}},
{"data":{"name":"tbl"},"transform":[{"filter":"isValid(datum.amt)"}],
"mark":{"type":"text","font":"Liberation Serif","fontSize":20,"color":"#000000"},
"encoding":{"y":{"field":"r","type":"nominal"},"text":{"field":"amt","type":"quantitative","format":".2f"}}},
{"data":{"values":[{"r":"h","t":"单边持仓额(亿元）"}]},
"mark":{"type":"text","font":"Liberation Serif, Noto Sans CJK SC","fontSize":21,"fontWeight":"bold","color":"#000000"},
"encoding":{"y":{"field":"r","type":"nominal"},"text":{"field":"t"}}}
]},
{"width":134,"height":522,"view":{"stroke":"#000000","strokeWidth":1.6},
"layer":[
{"data":{"name":"tbl"},"transform":[{"filter":"isValid(datum.chg)"}],
"mark":{"type":"bar","height":{"band":0.84},"fill":{"gradient":"linear","x1":0,"y1":0,"x2":1,"y2":0,"stops":[{"offset":0,"color":"#FFF4F4"},{"offset":1,"color":"#FF0000"}]},"stroke":"#FF0000","strokeWidth":1.2},
"encoding":{
"y":{"field":"r","type":"nominal","scale":{"type":"band","paddingInner":0,"paddingOuter":0,"domain":["h","上证50期货","沪深300期货","中证500期货","中证1000期货","上证50基差%","沪深300基差%","中证500基差%","中证1000基差%","上证50当次月价差%","沪深300当次月价差%","中证500当次月价差%","中证1000当次月价差%","上证50当季次月价差%","沪深300当季次月价差%","中证500当季次月价差%","中证1000当季次月价差%","上证50次季月价差%","沪深300次季月价差%","中证500次季月价差%","中证1000次季月价差%"]},
"axis":{"grid":true,"gridColor":"#000000","gridWidth":1.6,"labels":false,"ticks":false,"domain":false,"title":null,"tickBand":"extent","minExtent":0,"maxExtent":0}},
"x":{"field":"chg","type":"quantitative","scale":{"domain":[-17.725,0],"nice":false,"zero":false},"axis":null},
"x2":{"datum":0}}},
{"data":{"name":"tbl"},"transform":[{"filter":"isValid(datum.chg)"}],
"mark":{"type":"text","font":"Liberation Serif","fontSize":20,"color":"#000000"},
"encoding":{"y":{"field":"r","type":"nominal"},"text":{"field":"chg","type":"quantitative","format":".2f"}}},
{"data":{"values":[{"r":"h","t":"变化(亿元）"}]},
"mark":{"type":"text","font":"Liberation Serif, Noto Sans CJK SC","fontSize":21,"fontWeight":"bold","color":"#000000"},
"encoding":{"y":{"field":"r","type":"nominal"},"text":{"field":"t"}}}
]}
],
"spacing":0,
"bounds":"flush",
"resolve":{"scale":{"x":"independent","y":"independent"},"axis":{"y":"independent"}}
}
],"spacing":25},
{"vconcat":[
{"width":1674,"height":{"step":26.5},
"data":{"values":[{"k":"1","t":"撰写：韩颖朗"},{"k":"2","t":"从业资格号：F3039791"},{"k":"3","t":"固定电话：021-80213726"}]},
"mark":{"type":"text","align":"right","font":"Liberation Serif, Noto Sans CJK SC","fontSize":16.5,"fontWeight":"bold","color":"#000000"},
"encoding":{
"y":{"field":"k","type":"nominal","axis":null,"scale":{"type":"band","paddingInner":0,"paddingOuter":0}},
"x":{"datum":1,"type":"quantitative","scale":{"domain":[0,1]},"axis":null},
"text":{"field":"t"}}},
{"width":1674,"height":{"step":16},
"layer":[
{"data":{"values":[{"k":"1","t":"数据来源：Wind"}]},
"mark":{"type":"text","align":"right","font":"Noto Sans CJK SC","fontSize":12.5,"color":"#000000"},
"encoding":{
"y":{"field":"k","type":"nominal","axis":null,"scale":{"type":"band","paddingInner":0,"paddingOuter":0,"domain":["1","2","3"]}},
"x":{"datum":1,"type":"quantitative","scale":{"domain":[0,1]},"axis":null},
"text":{"field":"t"}}},
{"data":{"values":[{"k":"2","t":"免责声明　　本报告的信息均来源于公开资料，我公司对这些信息的准确性和完整性不作任何保证，也不保证所包含的信息和建议不会发生任何变更，报告仅面向我公司客户中的专业投资者客户。我们已力求报告内容的客观、公正，但文中的观点、结论和建议仅供参考，报告中的信息或意见并不构成所述品"},{"k":"3","t":"种的操作依据，投资者据此做出的任何投资决策与本公司和作者无关。"}]},
"mark":{"type":"text","align":"left","font":"Noto Sans CJK SC","fontSize":12.35,"color":"#000000"},
"encoding":{
"y":{"field":"k","type":"nominal"},
"x":{"datum":0,"type":"quantitative"},
"text":{"field":"t"}}}
]}
],"spacing":6}
],
"spacing":12
}
